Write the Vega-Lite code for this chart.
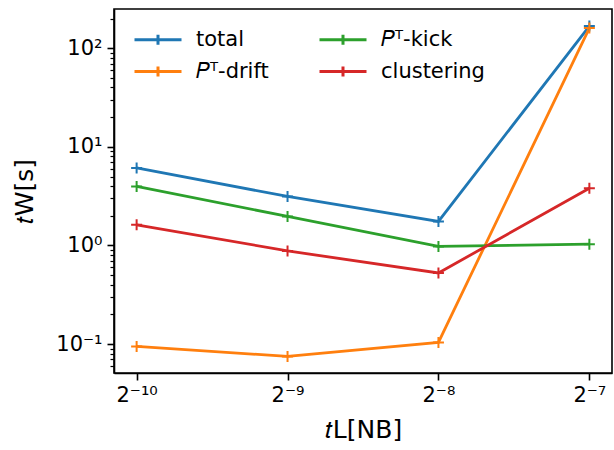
{
  "$schema": "https://vega.github.io/schema/vega-lite/v6.json",
  "width": 498,
  "height": 364,
  "autosize": {"type": "none"},
  "padding": {"left": 114, "top": 9, "right": 2, "bottom": 77},
  "background": "white",
  "config": {
    "font": "DejaVu Sans",
    "view": {"stroke": "black", "strokeWidth": 1.6},
    "axis": {"domainColor": "black", "domainWidth": 1.6, "tickColor": "black", "tickWidth": 1.6, "labelColor": "black", "titleColor": "black", "grid": false, "labelFont": "DejaVu Sans", "titleFont": "DejaVu Sans", "labelFontSize": 21, "titleFontSize": 25, "titleFontWeight": "normal"}
  },
  "data": {"values": [
    {"x": 0.0009765625, "s": "total", "y": 6.1},
    {"x": 0.001953125, "s": "total", "y": 3.14},
    {"x": 0.00390625, "s": "total", "y": 1.75},
    {"x": 0.0078125, "s": "total", "y": 168},
    {"x": 0.0009765625, "s": "𝑃ᵀ-drift", "y": 0.0946},
    {"x": 0.001953125, "s": "𝑃ᵀ-drift", "y": 0.0748},
    {"x": 0.00390625, "s": "𝑃ᵀ-drift", "y": 0.1038},
    {"x": 0.0078125, "s": "𝑃ᵀ-drift", "y": 160},
    {"x": 0.0009765625, "s": "𝑃ᵀ-kick", "y": 3.97},
    {"x": 0.001953125, "s": "𝑃ᵀ-kick", "y": 1.97},
    {"x": 0.00390625, "s": "𝑃ᵀ-kick", "y": 0.977},
    {"x": 0.0078125, "s": "𝑃ᵀ-kick", "y": 1.03},
    {"x": 0.0009765625, "s": "clustering", "y": 1.62},
    {"x": 0.001953125, "s": "clustering", "y": 0.88},
    {"x": 0.00390625, "s": "clustering", "y": 0.525},
    {"x": 0.0078125, "s": "clustering", "y": 3.8}
  ]},
  "encoding": {
    "x": {
      "field": "x", "type": "quantitative",
      "scale": {"type": "log", "base": 2, "domain": [0.00088018, 0.0086686], "nice": false},
      "axis": {
        "values": [0.0009765625, 0.001953125, 0.00390625, 0.0078125],
        "labelExpr": "'2' + (datum.value < 0.0015 ? '⁻¹⁰' : datum.value < 0.003 ? '⁻⁹' : datum.value < 0.006 ? '⁻⁸' : '⁻⁷')",
        "tickSize": 7, "labelPadding": 4, "title": "𝑡L[NB]", "titlePadding": 12
      }
    },
    "y": {
      "field": "y", "type": "quantitative",
      "scale": {"type": "log", "domain": [0.0508, 250], "nice": false},
      "axis": {
        "values": [0.06, 0.07, 0.08, 0.09, 0.1, 0.2, 0.3, 0.4, 0.5, 0.6, 0.7, 0.8, 0.9, 1, 2, 3, 4, 5, 6, 7, 8, 9, 10, 20, 30, 40, 50, 60, 70, 80, 90, 100, 200],
        "labelExpr": "datum.value == 100 ? '10²' : datum.value == 10 ? '10¹' : datum.value == 1 ? '10⁰' : datum.value == 0.1 ? '10⁻¹' : ''",
        "tickSize": {"condition": {"test": "datum.value == 100 || datum.value == 10 || datum.value == 1 || datum.value == 0.1", "value": 7}, "value": 4},
        "tickWidth": {"condition": {"test": "datum.value == 100 || datum.value == 10 || datum.value == 1 || datum.value == 0.1", "value": 1.6}, "value": 1.2},
        "labelPadding": 5, "title": "𝑡W[s]", "titlePadding": 18
      }
    },
    "color": {
      "field": "s", "type": "nominal",
      "scale": {"domain": ["total", "𝑃ᵀ-drift", "𝑃ᵀ-kick", "clustering"], "range": ["#1f77b4", "#ff7f0e", "#2ca02c", "#d62728"]},
      "legend": {
        "title": null, "orient": "top-left", "columns": 2, "offset": 13,
        "symbolType": "M-1,0H3.7M1.35,-0.5V0.5", "symbolSize": 400, "symbolStrokeWidth": 3,
        "labelFontSize": 21, "labelFont": "DejaVu Sans", "labelColor": "black",
        "labelOffset": 40, "columnPadding": 44, "rowPadding": 9, "padding": 6,
        "encode": {"symbols": {"update": {"size": {"value": 400}, "strokeWidth": {"value": 3}, "shape": {"value": "M-1,0H3.7M1.35,-0.5V0.5"}}}}
      }
    }
  },
  "layer": [
    {"mark": {"type": "line", "strokeWidth": 2.8}},
    {"mark": {"type": "point", "shape": "M-1,0H1M0,-1V1", "filled": false, "size": 121, "strokeWidth": 2, "opacity": 1}}
  ]
}
